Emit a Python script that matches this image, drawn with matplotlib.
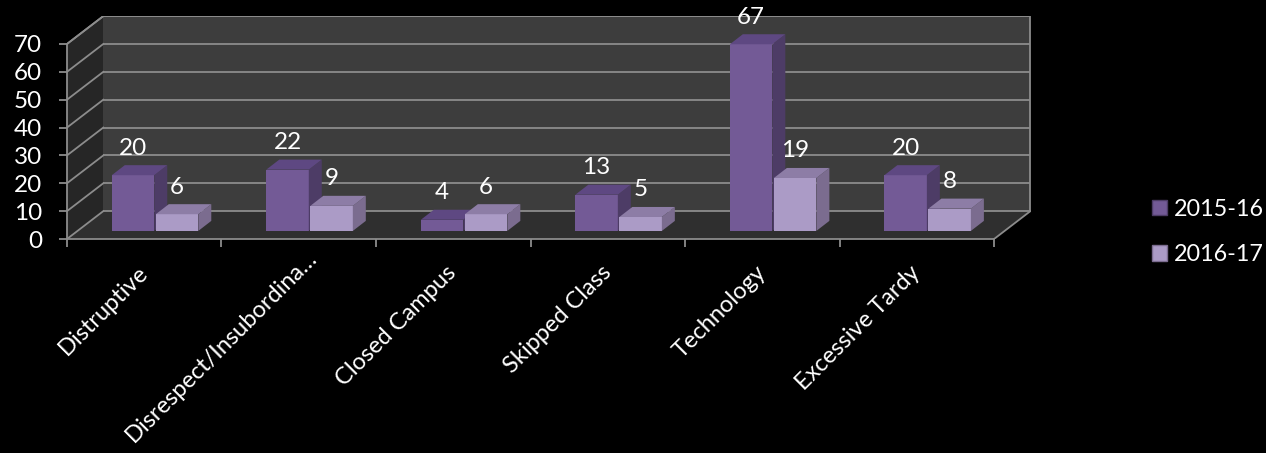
import numpy as np
import matplotlib
matplotlib.use("Agg")
import matplotlib.pyplot as plt
from matplotlib.patches import Polygon, Patch

plt.rcParams['font.family'] = ['Lato', 'DejaVu Sans']

# data
categories = ["Distruptive", "Disrespect/Insubordina\u2026", "Closed Campus",
              "Skipped Class", "Technology", "Excessive Tardy"]
series_names = ["2015-16", "2016-17"]
vals_1516 = [20, 22, 4, 13, 67, 20]
vals_1617 = [6, 9, 6, 5, 19, 8]
yticks = [0, 10, 20, 30, 40, 50, 60, 70]

# colours: front, side, top
c_1516 = ("#735a96", "#4d3c66", "#5e4882")
c_1617 = ("#ab9bc6", "#7b6c8f", "#8d7da6")
grid_c = "#8c8c8c"
FS = 17.5

# pseudo 3D geometry (data units)
DX, DY = 0.235, 10.0        # back wall depth offset
BX, BY = 0.084, 3.6         # bar depth
BASE = 2.9                  # bar baseline (mid floor)
W = 0.275
offs = [-0.21, 0.075]

fig = plt.figure(figsize=(12.66, 4.53), dpi=100, facecolor="black")
ax = fig.add_axes([0.0529, 0.4724, 0.7616, 0.4920])
ax.set_facecolor("black")
n = len(categories)
ax.set_xlim(-0.5, n - 0.5 + DX + 0.005)
ax.set_ylim(0, 80)

# walls and floor
left_wall = Polygon([(-0.5, 0), (-0.5, 70), (-0.5 + DX, 80), (-0.5 + DX, DY)],
                    closed=True, fc="#262626", ec="none", zorder=0)
back_wall = Polygon([(-0.5 + DX, DY), (-0.5 + DX, 80), (n - 0.5 + DX, 80), (n - 0.5 + DX, DY)],
                    closed=True, fc="#3d3d3d", ec="none", zorder=0)
floor = Polygon([(-0.5, 0), (n - 0.5, 0), (n - 0.5 + DX, DY), (-0.5 + DX, DY)],
                closed=True, fc="#2f2f2f", ec="none", zorder=0)
for p in (left_wall, back_wall, floor):
    ax.add_patch(p)

for v in yticks + [80 - DY]:
    ax.plot([-0.5 + DX, n - 0.5 + DX], [v + DY, v + DY], color=grid_c, lw=1.3, zorder=1,
            solid_capstyle="butt")
    ax.plot([-0.5, -0.5 + DX], [v, v + DY], color=grid_c, lw=1.3, zorder=1)
ax.plot([n - 0.5, n - 0.5 + DX], [0, DY], color=grid_c, lw=1.3, zorder=1)
ax.plot([n - 0.5 + DX, n - 0.5 + DX], [DY, 80], color=grid_c, lw=1.3, zorder=1)


def bar3d(x0, h, cols):
    y0, y1 = BASE, BASE + h
    ax.add_patch(Polygon([(x0, y0), (x0 + W, y0), (x0 + W, y1), (x0, y1)],
                         fc=cols[0], ec="none", zorder=3))
    ax.add_patch(Polygon([(x0 + W, y0), (x0 + W + BX, y0 + BY), (x0 + W + BX, y1 + BY), (x0 + W, y1)],
                         fc=cols[1], ec="none", zorder=3))
    ax.add_patch(Polygon([(x0, y1), (x0 + W, y1), (x0 + W + BX, y1 + BY), (x0 + BX, y1 + BY)],
                         fc=cols[2], ec="none", zorder=3))


for i in range(n):
    for k, (vals, cols) in enumerate(((vals_1516, c_1516), (vals_1617, c_1617))):
        x0 = i + offs[k]
        bar3d(x0, vals[i], cols)
        ax.annotate(str(vals[i]), (x0 + W / 2, BASE + vals[i]), xytext=(0, 19.5),
                    textcoords="offset points", ha="center", va="center",
                    color="white", fontsize=FS, zorder=5)

# axes
for s in ("top", "right"):
    ax.spines[s].set_visible(False)
for s in ("left", "bottom"):
    ax.spines[s].set_color(grid_c)
    ax.spines[s].set_linewidth(1.3)
    ax.spines[s].set_zorder(4)
ax.spines["left"].set_bounds(0, 70)
ax.spines["bottom"].set_bounds(-0.5, n - 0.5)

ax.set_yticks(yticks)
ax.set_yticklabels([str(v) for v in yticks])
ax.tick_params(axis="y", colors=grid_c, labelcolor="white", labelsize=FS,
               length=6, width=1.3, pad=12)
ax.set_xticks(np.arange(n + 1) - 0.5)
ax.set_xticklabels([])
ax.tick_params(axis="x", which="major", colors=grid_c, length=6, width=1.3)

# category labels, rotated 45 degrees
for i, cat in enumerate(categories):
    shift = (11, -11) if i == 1 else (0, -22)
    ax.annotate(cat, (i, 0), xytext=shift, textcoords="offset points",
                rotation=45, rotation_mode="anchor", ha="right", va="center",
                color="white", fontsize=17, annotation_clip=False)

handles = [Patch(fc=c_1516[0], ec=c_1516[1]), Patch(fc=c_1617[0], ec=c_1617[1])]
leg = fig.legend(handles, series_names, loc="center left",
                 bbox_to_anchor=(0.910, 0.488), frameon=False, fontsize=16.8,
                 borderpad=0, borderaxespad=0,
                 handlelength=0.62, handleheight=0.62, handletextpad=0.3,
                 labelspacing=1.05, labelcolor="white")

fig.savefig("out.png", dpi=100, facecolor="black")
